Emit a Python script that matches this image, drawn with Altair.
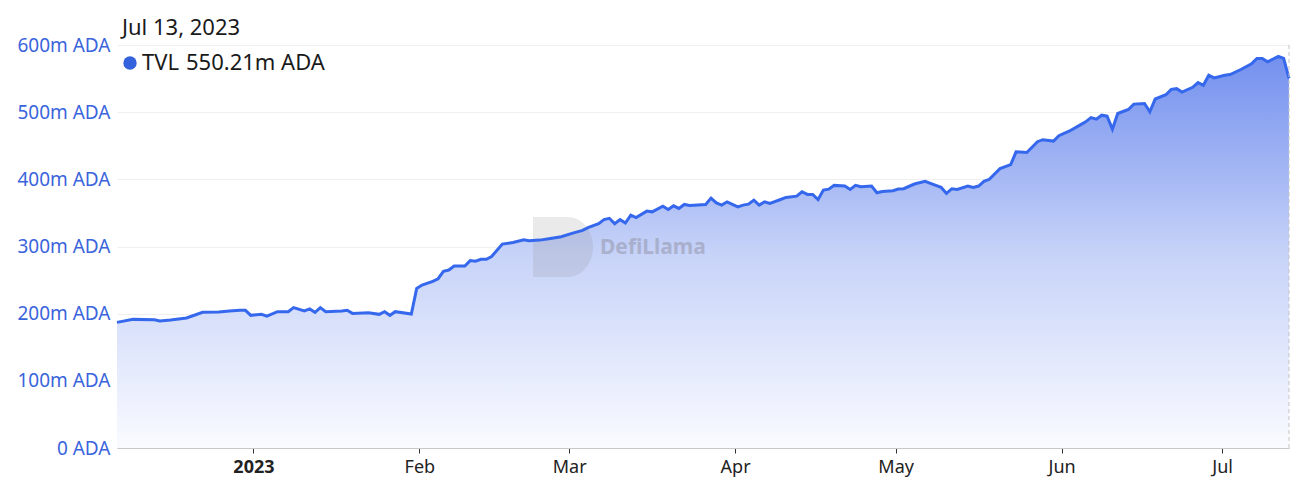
import altair as alt
import pandas as pd

# Daily TVL (millions of ADA); day offsets counted from 2022-12-06
days = [
    0, 3, 7, 8, 10, 13, 16, 19, 21, 23, 24, 25, 27, 28, 30, 32, 33, 35, 36, 37,
    38, 39, 42, 43, 44, 47, 49, 50, 51, 52, 55, 56, 57, 59, 60, 61, 62, 63, 65, 66,
    67, 68, 69, 70, 72, 74, 76, 77, 79, 81, 83, 85, 87, 88, 90, 91, 92, 93, 94, 95,
    96, 97, 99, 100, 102, 103, 104, 105, 106, 107, 110, 111, 112, 113, 114, 116, 117, 118, 119, 120,
    121, 122, 124, 125, 127, 128, 129, 130, 131, 132, 133, 134, 136, 137, 138, 139, 141, 142, 143, 145,
    146, 147, 149, 151, 153, 154, 155, 156, 157, 159, 160, 161, 162, 163, 165, 167, 168, 170, 172, 173,
    175, 176, 178, 180, 181, 182, 183, 184, 185, 186, 187, 189, 190, 192, 193, 194, 196, 197, 198, 199,
    201, 202, 203, 204, 205, 207, 208, 210, 212, 213, 214, 215, 217, 218, 219,
]
tvl = [
    187.0, 191.5, 191.0, 189.0, 190.5, 193.5, 202.0, 202.4, 204.0, 205.0, 205.0, 197.5, 199.0, 196.4, 203.0, 203.0, 209.0, 204.0, 207.0, 202.0,
    209.0, 203.0, 204.0, 205.0, 200.4, 201.4, 199.0, 203.0, 197.5, 203.0, 199.4, 237.6, 242.6, 248.0, 252.0, 263.0, 265.0, 271.0, 271.0, 279.0,
    278.0, 281.0, 281.0, 285.0, 303.6, 306.0, 310.0, 308.5, 309.5, 312.0, 314.5, 319.5, 324.0, 328.0, 334.0, 340.0, 342.0, 334.0, 340.0, 335.0,
    346.7, 343.0, 352.7, 351.6, 360.0, 355.0, 360.6, 356.7, 362.6, 361.0, 362.6, 372.0, 365.0, 361.6, 366.5, 359.0, 361.6, 363.0, 369.0, 361.6,
    366.5, 364.0, 370.0, 373.0, 375.0, 381.5, 377.5, 377.5, 370.0, 384.0, 385.4, 391.0, 390.0, 385.0, 391.0, 389.0, 390.0, 380.0, 382.0, 383.0,
    385.5, 386.0, 393.0, 397.0, 391.0, 388.0, 379.0, 386.0, 385.0, 390.0, 388.0, 390.0, 397.0, 400.0, 416.0, 422.0, 441.0, 440.0, 456.0, 459.0,
    457.0, 465.0, 472.0, 481.0, 485.6, 492.0, 489.6, 495.5, 494.0, 474.7, 498.0, 504.0, 512.0, 513.0, 500.5, 519.6, 526.0, 534.0, 535.0, 530.0,
    537.0, 544.0, 540.0, 555.0, 551.0, 555.0, 556.0, 563.5, 572.0, 580.0, 580.0, 575.0, 583.0, 580.0, 550.21,
]

y_ticks = [0, 100, 200, 300, 400, 500, 600]
month_ticks = [(2023, m) for m in range(1, 8)]

BLUE = "#3568ec"
LABEL_BLUE = "#3a64dc"
FONT = "Noto Sans"

start = pd.Timestamp("2022-12-06 12:00", tz="UTC")
stamps = start + pd.to_timedelta(days, unit="D")
df = pd.DataFrame({
    "date": stamps.strftime("%Y-%m-%dT%H:%M:%SZ"),
    "tvl": tvl,
})

x_axis = alt.Axis(
    values=[alt.DateTime(year=y, month=m, date=1, utc=True) for y, m in month_ticks],
    labelExpr="utcmonth(datum.value) == 0 ? utcFormat(datum.value, '%Y') : utcFormat(datum.value, '%b')",
    labelFontWeight={"condition": {"test": "utcmonth(datum.value) == 0", "value": "bold"}, "value": "normal"},
    labelFontSize=18,
    labelFont=FONT,
    labelColor="#222222",
    labelPadding=5,
    tickSize=5,
    tickColor="#333333",
    domainColor="#c8c8c8",
    grid=False,
    title=None,
)
y_axis = alt.Axis(
    values=y_ticks,
    labelExpr="datum.value == 0 ? '0 ADA' : datum.value + 'm ADA'",
    labelFontSize=19,
    labelFont=FONT,
    labelColor=LABEL_BLUE,
    labelPadding=7,
    ticks=False,
    domain=False,
    grid=True,
    gridColor="#efefef",
    title=None,
)

x_enc = alt.X("date:T", scale=alt.Scale(type="utc"), axis=x_axis)
y_enc = alt.Y("tvl:Q", scale=alt.Scale(domain=[0, 600], nice=False), axis=y_axis)

fill = alt.Gradient(
    gradient="linear",
    stops=[
        alt.GradientStop(color="#7390ee", offset=0),
        alt.GradientStop(color="#c6d2f8", offset=0.5),
        alt.GradientStop(color="#fafbff", offset=1),
    ],
    x1=0, x2=0, y1=0, y2=1,
)

base = alt.Chart(df)
area = base.mark_area(color=fill).encode(x=x_enc, y=y_enc)
line = base.mark_line(color=BLUE, strokeWidth=3).encode(x=x_enc, y=y_enc)

# Watermark: solid rounded "D" badge plus the wordmark
logo = alt.Chart(pd.DataFrame({"k": [0]})).mark_point(
    shape="M-1,-1 L0.15,-1 A0.85,1 0 0 1 0.15,1 L-1,1 Z",
    filled=True, color="#8a8a8a", opacity=0.18, size=3600,
).encode(x=alt.value(446), y=alt.value(202))
brand = alt.Chart(pd.DataFrame({"t": ["DefiLlama"]})).mark_text(
    align="left", baseline="middle", fontSize=21, fontWeight="bold",
    font=FONT, color="#8a8a9a", opacity=0.45,
).encode(x=alt.value(483), y=alt.value(203), text="t:N")

# Hover marker at the latest point
last = df.tail(1)
cursor = alt.Chart(last).mark_rule(color="#c4c4c4", strokeDash=[4, 3], strokeWidth=1).encode(x=alt.X("date:T"))

date_label = pd.Timestamp(stamps[-1]).strftime("%b %d, %Y").replace(" 0", " ")
value_label = f"{tvl[-1]:.2f}m ADA"

t_date = alt.Chart(pd.DataFrame({"t": [date_label]})).mark_text(
    align="left", baseline="middle", fontSize=22, font=FONT, color="#1a1a1a",
).encode(x=alt.value(5), y=alt.value(-17), text="t:N")
dot = alt.Chart(pd.DataFrame({"k": [0]})).mark_point(
    shape="circle", filled=True, color="#3462dc", opacity=1, size=180,
).encode(x=alt.value(13), y=alt.value(18))
t_name = alt.Chart(pd.DataFrame({"t": ["TVL"]})).mark_text(
    align="left", baseline="middle", fontSize=22, font=FONT, color="#1a1a1a",
).encode(x=alt.value(25), y=alt.value(18), text="t:N")
t_value = alt.Chart(pd.DataFrame({"t": [value_label]})).mark_text(
    align="left", baseline="middle", fontSize=22, font=FONT, color="#1a1a1a",
).encode(x=alt.value(69), y=alt.value(18), text="t:N")

chart = alt.layer(
    area, logo, brand, line, cursor, t_date, dot, t_name, t_value
).properties(
    width=1172,
    height=403,
    autosize=alt.AutoSizeParams(type="none"),
    padding={"left": 117, "top": 45, "right": 15, "bottom": 48},
    background="white",
).configure_view(stroke=None)

chart.save("out.html", embed_options={"renderer": "svg", "actions": False})
